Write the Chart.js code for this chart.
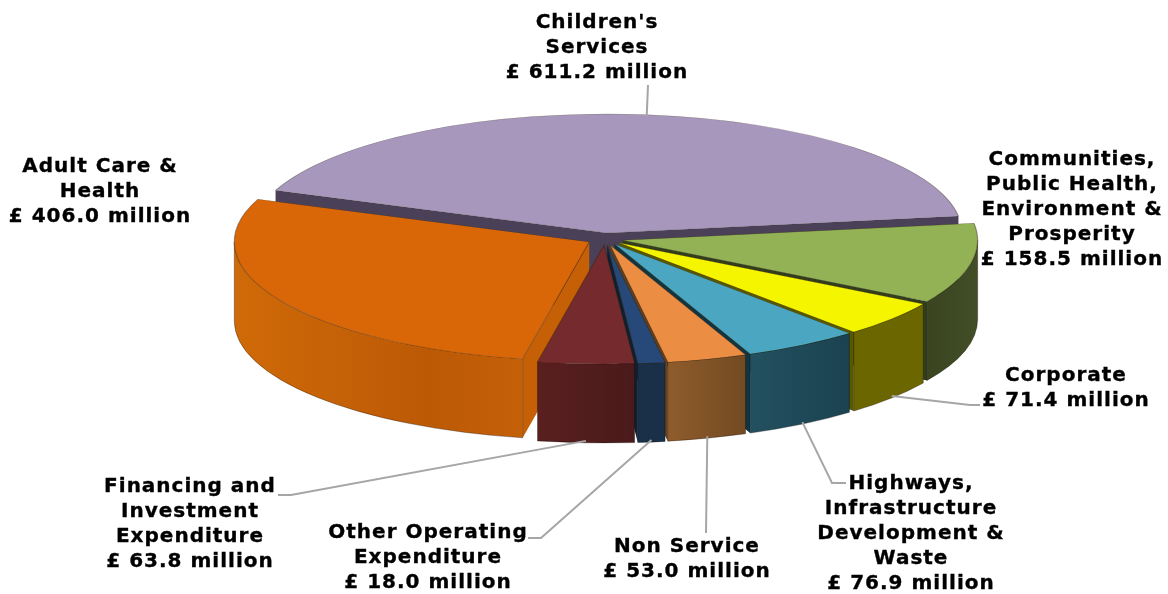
<!DOCTYPE html>
<html>
<head>
<meta charset="utf-8">
<title>Budget by service</title>
<script src="https://cdn.jsdelivr.net/npm/chart.js@4/dist/chart.umd.min.js"></script>
<style>
  html, body { margin: 0; padding: 0; background: #fff; }
  #wrap { width: 1168px; height: 594px; }
</style>
</head>
<body>
<div id="wrap"><canvas id="budgetChart" width="1168" height="594"></canvas></div>
<script>
const categories = [
  ["Children's", 'Services'],
  ['Communities,', 'Public Health,', 'Environment &', 'Prosperity'],
  ['Corporate'],
  ['Highways,', 'Infrastructure', 'Development &', 'Waste'],
  ['Non Service'],
  ['Other Operating', 'Expenditure'],
  ['Financing and', 'Investment', 'Expenditure'],
  ['Adult Care &', 'Health']
];
const values = [611.2, 158.5, 71.4, 76.9, 53.0, 18.0, 63.8, 406.0];

const topColors = ['#A897BD', '#93B155', '#F5F500', '#4AA6C1', '#EC8D44', '#27497A', '#752B2D', '#DA6707'];
// outer wall gradient stops, left to right
const wallColors = [
  ['#4A4158', '#4A4158'],
  ['#3A4520', '#424E26'],
  ['#6B6600', '#6B6600'],
  ['#235060', '#1B4250'],
  ['#8F5C2C', '#734A22'],
  ['#1A3048', '#1A3048'],
  ['#5A1F1F', '#4A1A1A'],
  ['#D06A08', '#C66207', '#BC5905', '#C46008']
];
const edgeColors = ['#4A4158', '#333D1B', '#5A5700', '#113542', '#66411D', '#0E2032', '#3F1414', '#C66007'];

// label placement: centre x and centre y of the first line
const labelX = [597, 1072, 1066, 911, 687, 428, 190, 100];
const labelY = [22, 159, 375, 483, 546, 532, 486, 166];
// leader lines start at the label and run to the slice rim (null = no leader)
const leaderPaths = [
  [[648, 85]],
  null,
  [[980, 405], [970, 405]],
  [[846, 483], [832, 483]],
  [[706, 533]],
  [[528, 538], [541, 538]],
  [[278, 495], [291, 495]],
  null
];

const pieX = 605, pieY = 239;
const radiusX = 355, radiusY = 119;
const wallDepth = 79;
const explode = 18;
const lineHeight = 25;

function sliceOrigin(arc) {
  const mid = (arc.startAngle + arc.endAngle) / 2;
  return {
    x: pieX + explode * Math.cos(mid),
    y: pieY + explode * (radiusY / radiusX) * Math.sin(mid)
  };
}

function wallGradient(ctx, x0, x1, stops) {
  const g = ctx.createLinearGradient(x0, 0, x1, 0);
  stops.forEach((c, i) => g.addColorStop(i / (stops.length - 1), c));
  return g;
}

function edgeWall(ctx, o, angle, color) {
  const px = o.x + radiusX * Math.cos(angle);
  const py = o.y + radiusY * Math.sin(angle);
  ctx.beginPath();
  ctx.moveTo(o.x, o.y);
  ctx.lineTo(px, py);
  ctx.lineTo(px, py + wallDepth);
  ctx.lineTo(o.x, o.y + wallDepth);
  ctx.closePath();
  ctx.fillStyle = color;
  ctx.fill();
}

function drawWalls(ctx, arc, i) {
  const o = sliceOrigin(arc);
  const a = arc.startAngle, b = arc.endAngle;

  // only the straight sides turned towards the viewer
  if (Math.cos(a) < 0) edgeWall(ctx, o, a, edgeColors[i]);
  if (Math.cos(b) > 0) edgeWall(ctx, o, b, edgeColors[i]);

  // front part of the rim
  const lo = Math.max(a, 0), hi = Math.min(b, Math.PI);
  if (hi > lo) {
    const x0 = o.x + radiusX * Math.cos(hi), x1 = o.x + radiusX * Math.cos(lo);
    ctx.beginPath();
    ctx.ellipse(o.x, o.y, radiusX, radiusY, 0, lo, hi);
    ctx.ellipse(o.x, o.y + wallDepth, radiusX, radiusY, 0, hi, lo, true);
    ctx.closePath();
    ctx.fillStyle = wallGradient(ctx, x0, x1, wallColors[i]);
    ctx.fill();
    ctx.strokeStyle = 'rgba(0,0,0,0.3)';
    ctx.lineWidth = 1;
    ctx.stroke();
  }
}

const pie3d = {
  id: 'pie3d',
  beforeDatasetsDraw(chart) {
    const ctx = chart.ctx;
    const arcs = chart.getDatasetMeta(0).data;

    // back slices first
    const order = arcs.map((arc, i) => i).sort((p, q) => {
      const mp = (arcs[p].startAngle + arcs[p].endAngle) / 2;
      const mq = (arcs[q].startAngle + arcs[q].endAngle) / 2;
      return Math.sin(mp) - Math.sin(mq);
    });
    order.forEach(i => drawWalls(ctx, arcs[i], i));

    // flatten the library's arcs into the tilted top faces
    arcs.forEach(arc => {
      const o = sliceOrigin(arc);
      ctx.save();
      ctx.translate(o.x, o.y);
      ctx.scale(radiusX / arc.outerRadius, radiusY / arc.outerRadius);
      ctx.translate(-arc.x, -arc.y);
      arc.draw(ctx);
      ctx.restore();
    });
    return false;
  },
  afterDraw(chart) {
    const ctx = chart.ctx;
    const arcs = chart.getDatasetMeta(0).data;

    // leader lines
    ctx.strokeStyle = '#A6A6A6';
    ctx.lineWidth = 2;
    arcs.forEach((arc, i) => {
      const path = leaderPaths[i];
      if (!path) return;
      const o = sliceOrigin(arc);
      const mid = (arc.startAngle + arc.endAngle) / 2;
      const front = Math.sin(mid) > 0 ? wallDepth - 2 : 2;
      ctx.beginPath();
      path.forEach((p, k) => k ? ctx.lineTo(p[0], p[1]) : ctx.moveTo(p[0], p[1]));
      ctx.lineTo(o.x + radiusX * Math.cos(mid), o.y + radiusY * Math.sin(mid) + front);
      ctx.stroke();
    });

    // labels
    ctx.fillStyle = '#000';
    ctx.strokeStyle = '#000';
    ctx.lineWidth = 0.35;
    ctx.font = 'bold 20px "DejaVu Sans"';
    ctx.letterSpacing = '1px';
    ctx.textAlign = 'center';
    ctx.textBaseline = 'middle';
    categories.forEach((lines, i) => {
      const text = lines.concat('£ ' + values[i].toFixed(1) + ' million');
      text.forEach((t, k) => {
        const y = labelY[i] + 1 + k * lineHeight;
        ctx.fillText(t, labelX[i], y);
        ctx.strokeText(t, labelX[i], y);
      });
    });
  }
};

new Chart(document.getElementById('budgetChart'), {
  type: 'pie',
  data: {
    labels: categories.map(c => c.join(' ')),
    datasets: [{
      data: values,
      backgroundColor: topColors,
      borderColor: 'rgba(40,30,10,0.4)',
      borderWidth: 1,
      borderJoinStyle: 'miter',
      clip: false
    }]
  },
  options: {
    responsive: false,
    animation: false,
    rotation: -69,
    plugins: { legend: { display: false }, tooltip: { enabled: false } }
  },
  plugins: [pie3d]
});
</script>
</body>
</html>
